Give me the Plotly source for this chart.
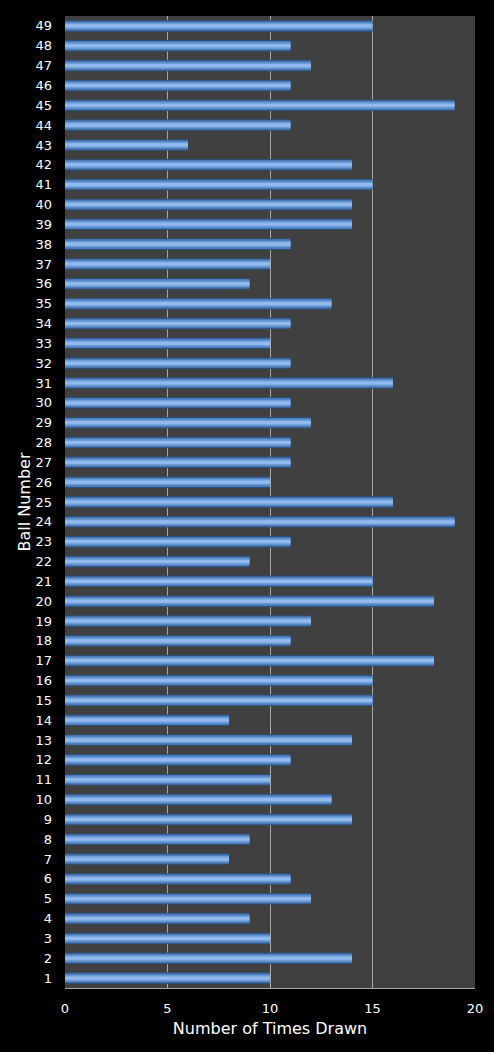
import plotly.graph_objects as go

balls = list(range(1, 50))
times_drawn = [10, 14, 10, 9, 12, 11, 8, 9, 14, 13,
               10, 11, 14, 8, 15, 15, 18, 11, 12, 18,
               15, 9, 11, 19, 16, 10, 11, 11, 12, 11,
               16, 11, 10, 11, 13, 9, 10, 11, 14, 14,
               15, 14, 6, 11, 19, 11, 12, 11, 15]
x_ticks = [0, 5, 10, 15, 20]

font = "DejaVu Sans"

fig = go.Figure()
# layered bars to imitate the cylinder-like gradient
layers = [(0.58, "#2c4f7c"), (0.48, "#4a7bb8"), (0.32, "#6d9cd9"), (0.16, "#92baee")]
for w, c in layers:
    fig.add_trace(go.Bar(
        x=times_drawn, y=balls, orientation="h", width=w,
        marker=dict(color=c, line=dict(width=0)),
        hoverinfo="x+y", showlegend=False,
    ))

fig.update_layout(
    width=494, height=1052,
    paper_bgcolor="#000000", plot_bgcolor="#404040",
    barmode="overlay",
    margin=dict(l=65, r=19, t=16, b=64),
    font=dict(family=font, color="#ffffff", size=13),
    xaxis=dict(
        range=[0, 20], tickvals=x_ticks, ticktext=[str(v) for v in x_ticks],
        showgrid=True, gridcolor="#a6a6a6", gridwidth=1,
        zeroline=False, showline=True, linecolor="#a6a6a6", linewidth=1,
        ticks="", ticklabelstandoff=8,
        title=dict(text="Number of Times Drawn", font=dict(size=16, family=font), standoff=8),
        fixedrange=True,
    ),
    yaxis=dict(
        range=[0.5, 49.5], tickvals=balls, ticktext=[str(b) for b in balls],
        showgrid=False, zeroline=False, showline=False, ticks="",
        ticklabelstandoff=12,
        title=dict(text="Ball Number", font=dict(size=16, family=font), standoff=0),
        fixedrange=True,
    ),
)
fig.write_html("out.html", config={"displayModeBar": False},
               post_script="document.body.style.margin='0';document.body.style.background='#000';")
